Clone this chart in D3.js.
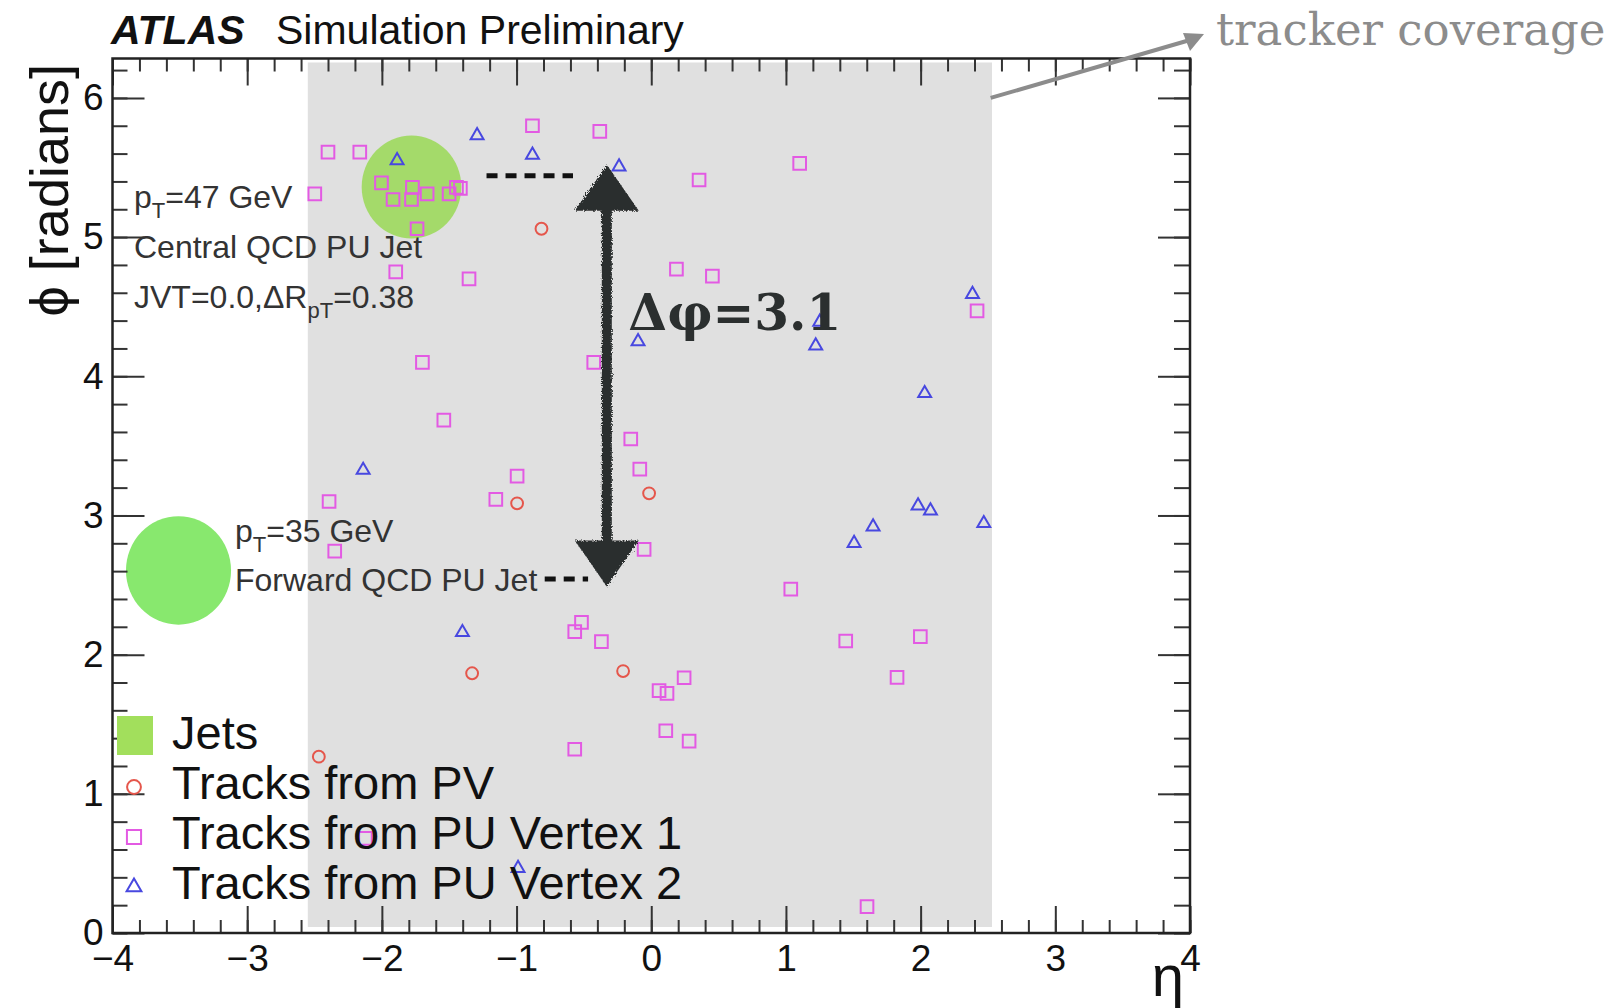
<!DOCTYPE html>
<html>
<head>
<meta charset="utf-8">
<script src="https://cdn.jsdelivr.net/npm/d3@7"></script>
<style>
  body { margin: 0; background: #fff; }
  svg { display: block; font-family: "Liberation Sans", Arial, Helvetica, sans-serif; }
</style>
</head>
<body>
<svg id="chart"></svg>
<script>
// Track positions (eta, phi)
const pvTracks = [
  [-0.815, 5.06], [-0.996, 3.087], [-0.016, 3.159], [-1.330, 1.866], [-0.209, 1.882], [-2.468, 1.267]
];

const pu1Tracks = [
  [-2.40, 5.61], [-2.164, 5.61], [-2.498, 5.31], [-2.003, 5.39], [-1.773, 5.357], [-1.917, 5.27],
  [-1.780, 5.27], [-1.664, 5.31], [-1.501, 5.31], [-1.446, 5.357], [-1.417, 5.35], [-1.739, 5.06],
  [-1.897, 4.75], [-1.353, 4.70], [-1.699, 4.10], [-0.427, 4.10], [-0.882, 5.80], [-0.382, 5.76],
  [0.355, 5.41], [1.102, 5.53], [0.187, 4.77], [0.454, 4.72], [2.419, 4.47], [-1.540, 3.685],
  [-0.996, 3.283], [-1.154, 3.116], [-2.392, 3.10], [-2.350, 2.744], [-0.152, 3.549], [-0.085, 3.333],
  [-0.053, 2.756], [-0.518, 2.232], [-0.568, 2.165], [-0.370, 2.093], [1.036, 2.471], [1.444, 2.098],
  [1.998, 2.129], [-0.568, 1.320], [-2.122, 0.680], [0.058, 1.741], [0.117, 1.722], [0.244, 1.834],
  [0.108, 1.453], [0.281, 1.379], [1.825, 1.837], [1.602, 0.189]
];

const pu2Tracks = [
  [-1.887, 5.55], [-1.293, 5.73], [-0.882, 5.59], [-0.239, 5.505], [-0.098, 4.25], [2.385, 4.59],
  [1.251, 4.39], [1.221, 4.22], [2.030, 3.877], [1.981, 3.070], [2.073, 3.034], [2.469, 2.943],
  [1.647, 2.919], [1.506, 2.80], [-2.139, 3.326], [-1.402, 2.16], [-0.989, 0.465]
];

// Jets: centre and radius in (eta, phi)
const jetEta = [-1.78, -3.51];
const jetPhi = [5.36, 2.605];
const jetR = [0.37, 0.39];

const trackerEta = [-2.55, 2.53];
const xTicks = [-4, -3, -2, -1, 0, 1, 2, 3, 4];
const yTicks = [0, 1, 2, 3, 4, 5, 6];
const legendLabels = ["Jets", "Tracks from PV", "Tracks from PU Vertex 1", "Tracks from PU Vertex 2"];

// Delta-phi annotation
const dphiEta = -0.33;
const dphiEnds = [2.49, 5.52];

const width = 1616;
const height = 1008;
const svg = d3.select("#chart").attr("width", width).attr("height", height);

const x = d3.scaleLinear().domain([-4, 4]).range([112.5, 1190]);
const y = d3.scaleLinear().domain([0, 2 * Math.PI]).range([933, 58.5]);

const colors = { pv: "#e5564b", pu1: "#e35ae3", pu2: "#4848e0" };
const jetColors = ["#a4da6a", "#88e86e"];

// rough edge filter for the hand-drawn arrow
const defs = svg.append("defs");
const rough = defs.append("filter").attr("id", "rough").attr("x", "-20%").attr("y", "-5%").attr("width", "140%").attr("height", "110%");
rough.append("feTurbulence").attr("type", "fractalNoise").attr("baseFrequency", 0.9).attr("numOctaves", 2).attr("result", "noise");
rough.append("feDisplacementMap").attr("in", "SourceGraphic").attr("in2", "noise").attr("scale", 5);

// tracker coverage band
svg.append("rect")
  .attr("x", x(trackerEta[0]))
  .attr("width", x(trackerEta[1]) - x(trackerEta[0]))
  .attr("y", y(2 * Math.PI) + 4)
  .attr("height", y(0) - y(2 * Math.PI) - 10)
  .attr("fill", "#e0e0e0");

// jets
svg.append("g")
  .selectAll("ellipse")
  .data(jetEta)
  .enter()
  .append("ellipse")
  .attr("cx", (d) => x(d))
  .attr("cy", (d, i) => y(jetPhi[i]))
  .attr("rx", (d, i) => x(jetR[i]) - x(0))
  .attr("ry", (d, i) => y(0) - y(jetR[i]))
  .attr("fill", (d, i) => jetColors[i]);

// axes: ticks pointing inward on all four sides
function styleAxis(g) {
  g.select(".domain").remove();
  g.selectAll(".tick line").attr("stroke", "#333").attr("stroke-width", 2);
  g.selectAll("text").attr("fill", "#111").attr("font-size", 37).attr("font-family", "Liberation Sans, Arial, sans-serif");
}

const minorX = d3.range(-4, 4.001, 0.2);
const minorY = d3.range(0, 6.21, 0.2);
const fmt = d3.format("d");

svg.append("g").attr("transform", `translate(0,${y(0)})`)
  .call(d3.axisBottom(x).tickValues(minorX).tickSize(-13).tickFormat(""))
  .call(styleAxis);
svg.append("g").attr("transform", `translate(0,${y(0)})`)
  .call(d3.axisBottom(x).tickValues(xTicks).tickSize(-27).tickPadding(12).tickFormat(fmt))
  .call(styleAxis);
svg.append("g").attr("transform", `translate(0,${y(2 * Math.PI)})`)
  .call(d3.axisTop(x).tickValues(minorX).tickSize(-13).tickFormat(""))
  .call(styleAxis);
svg.append("g").attr("transform", `translate(0,${y(2 * Math.PI)})`)
  .call(d3.axisTop(x).tickValues(xTicks).tickSize(-27).tickFormat(""))
  .call(styleAxis);

svg.append("g").attr("transform", `translate(${x(-4)},0)`)
  .call(d3.axisLeft(y).tickValues(minorY).tickSize(-15).tickFormat(""))
  .call(styleAxis);
svg.append("g").attr("transform", `translate(${x(-4)},0)`)
  .call(d3.axisLeft(y).tickValues(yTicks).tickSize(-32).tickPadding(9).tickFormat(fmt))
  .call(styleAxis);
svg.append("g").attr("transform", `translate(${x(4)},0)`)
  .call(d3.axisRight(y).tickValues(minorY).tickSize(-16).tickFormat(""))
  .call(styleAxis);
svg.append("g").attr("transform", `translate(${x(4)},0)`)
  .call(d3.axisRight(y).tickValues(yTicks).tickSize(-32).tickFormat(""))
  .call(styleAxis);

// frame
svg.append("rect")
  .attr("x", x(-4)).attr("y", y(2 * Math.PI))
  .attr("width", x(4) - x(-4)).attr("height", y(0) - y(2 * Math.PI))
  .attr("fill", "none").attr("stroke", "#222").attr("stroke-width", 2.5);

// track markers
const sym = d3.symbol();
function drawTracks(data, type, size, color) {
  svg.append("g")
    .selectAll("path")
    .data(data)
    .enter()
    .append("path")
    .attr("transform", (d) => `translate(${x(d[0])},${y(d[1])})`)
    .attr("d", sym.type(type).size(size)())
    .attr("fill", "none")
    .attr("stroke", color)
    .attr("stroke-width", 2);
}
drawTracks(pu1Tracks, d3.symbolSquare, 160, colors.pu1);
drawTracks(pu2Tracks, d3.symbolTriangle, 72, colors.pu2);
drawTracks(pvTracks, d3.symbolCircle, 110, colors.pv);

// delta phi arrow (hand drawn look)
const ax = x(dphiEta);
const yTop = y(dphiEnds[1]);
const yBot = y(dphiEnds[0]);
const arrow = svg.append("g").attr("fill", "#2b2f2f").attr("filter", "url(#rough)");
arrow.append("rect").attr("x", ax - 5).attr("width", 10).attr("y", yTop + 30).attr("height", yBot - yTop - 60);
arrow.append("path").attr("d", `M${ax},${yTop} L${ax + 32},${yTop + 46} L${ax - 32},${yTop + 46} Z`);
arrow.append("path").attr("d", `M${ax},${yBot} L${ax + 32},${yBot - 46} L${ax - 32},${yBot - 46} Z`);

// dashed connectors
svg.append("line")
  .attr("x1", x(-1.223)).attr("x2", x(-0.581)).attr("y1", y(5.44)).attr("y2", y(5.44))
  .attr("stroke", "#111").attr("stroke-width", 5).attr("stroke-dasharray", "11,8");
svg.append("line")
  .attr("x1", x(-0.791)).attr("x2", x(-0.469)).attr("y1", y(2.543)).attr("y2", y(2.543))
  .attr("stroke", "#111").attr("stroke-width", 5).attr("stroke-dasharray", "11,8");

svg.append("text")
  .attr("x", x(-0.17)).attr("y", y(4.33))
  .attr("font-family", "DejaVu Serif, serif").attr("font-weight", "bold").attr("font-size", 50)
  .attr("fill", "#2b2f2f")
  .text("Δφ=3.1");

// jet annotations, subscripts lowered then restored on the next piece
function subText(xp, yp, parts) {
  const t = svg.append("text").attr("x", xp).attr("y", yp).attr("font-size", 32).attr("fill", "#333");
  let shift = 0;
  parts.forEach((p) => {
    if (p.sub) {
      t.append("tspan").attr("dy", 10).attr("font-size", 22).text(p.sub);
      shift = -10;
    } else {
      t.append("tspan").attr("dy", shift).text(p.t);
      shift = 0;
    }
  });
}
subText(134, 208, [{ t: "p" }, { sub: "T" }, { t: "=47 GeV" }]);
subText(134, 258, [{ t: "Central QCD PU Jet" }]);
subText(134, 308, [{ t: "JVT=0.0,ΔR" }, { sub: "pT" }, { t: "=0.38" }]);
subText(235, 542, [{ t: "p" }, { sub: "T" }, { t: "=35 GeV" }]);
subText(235, 591, [{ t: "Forward QCD PU Jet" }]);

// legend
const legend = svg.append("g").attr("id", "legend");
const legY = (i) => 749 + i * 50;
legend.append("rect").attr("x", 117).attr("y", legY(0) - 33).attr("width", 36).attr("height", 39).attr("fill", "#a2df5c");
const legTypes = [null, d3.symbolCircle, d3.symbolSquare, d3.symbolTriangle];
const legSizes = [0, 150, 200, 95];
const legColors = [null, colors.pv, colors.pu1, colors.pu2];
legend.selectAll("path")
  .data([1, 2, 3])
  .enter()
  .append("path")
  .attr("transform", (i) => `translate(134,${legY(i) - 12})`)
  .attr("d", (i) => sym.type(legTypes[i]).size(legSizes[i])())
  .attr("fill", "none")
  .attr("stroke", (i) => legColors[i])
  .attr("stroke-width", 2);
legend.selectAll("text")
  .data(legendLabels)
  .enter()
  .append("text")
  .attr("x", 172)
  .attr("y", (d, i) => legY(i))
  .attr("font-size", 47)
  .attr("fill", "#111")
  .text((d) => d);

// axis titles
svg.append("text")
  .attr("transform", `translate(68,64) rotate(-90)`)
  .attr("text-anchor", "end")
  .attr("font-size", 54)
  .attr("fill", "#111")
  .text("ϕ [radians]");
svg.append("text")
  .attr("x", 1184).attr("y", 996)
  .attr("text-anchor", "end")
  .attr("font-size", 58)
  .attr("fill", "#111")
  .text("η");

// title
const title = svg.append("text").attr("x", 111).attr("y", 44).attr("font-size", 41).attr("fill", "#111");
title.append("tspan").attr("font-weight", "bold").attr("font-style", "italic").text("ATLAS");
title.append("tspan").attr("x", 276).text("Simulation Preliminary");

// tracker coverage note
svg.append("line")
  .attr("x1", x(2.52)).attr("y1", y(6.0)).attr("x2", 1190).attr("y2", 40)
  .attr("stroke", "#8c8c8c").attr("stroke-width", 4);
svg.append("path")
  .attr("d", "M1204,34 L1183,33 L1190,51 Z")
  .attr("fill", "#8c8c8c");
svg.append("text")
  .attr("x", 1216).attr("y", 45)
  .attr("font-family", "DejaVu Serif, serif").attr("font-size", 45)
  .attr("fill", "#8c8c8c")
  .text("tracker coverage");
</script>
</body>
</html>
